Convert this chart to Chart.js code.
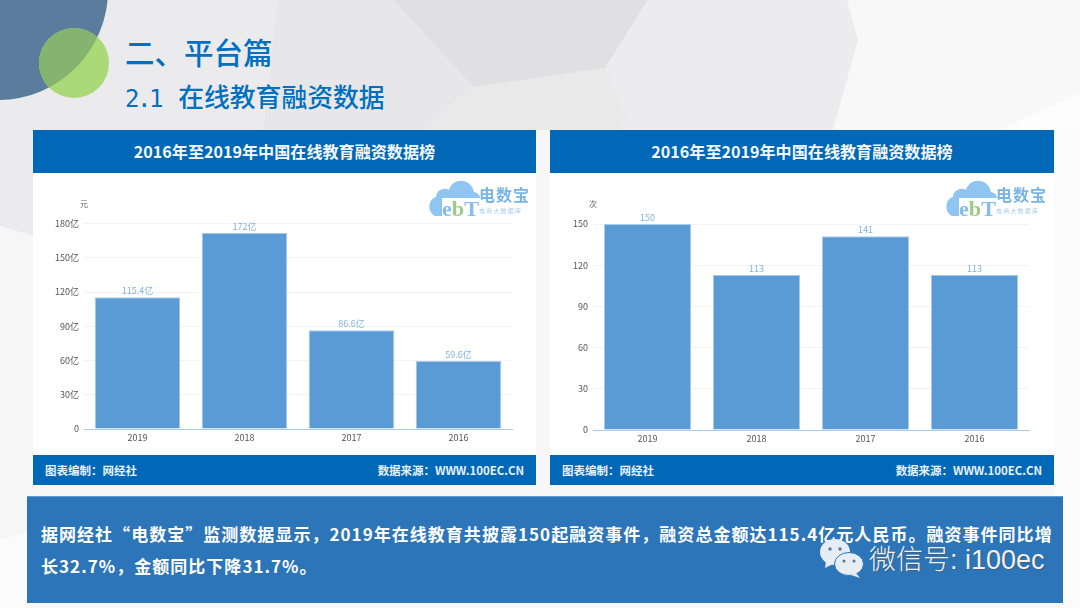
<!DOCTYPE html>
<html lang="zh-CN">

<head>
    <meta charset="utf-8">
    <title>在线教育融资数据</title>
    <script src="https://cdn.jsdelivr.net/npm/chart.js"></script>
    <style>
        html, body { margin: 0; padding: 0; }
        body { width: 1080px; height: 608px; overflow: hidden; position: relative; background: #f7f7f8; font-family: "Noto Sans CJK SC", "Noto Sans", sans-serif; }
        .abs { position: absolute; white-space: nowrap; }
        .panel { position: absolute; top: 130px; height: 355px; background: #fff; }
        .head { position: absolute; left: 0; right: 0; top: 0; height: 43px; line-height: 42px; background: #0068b7; color: #f4f8fc; font-size: 16.1px; font-weight: 700; text-align: center; }
        .foot { position: absolute; left: 0; right: 0; top: 325px; height: 30px; line-height: 30px; background: #0068b7; color: #e8f0f8; font-size: 11.5px; font-weight: 700; }
        .foot .l { position: absolute; left: 12px; }
        .foot .r { position: absolute; right: 12px; letter-spacing: -.05px; }
        .panel canvas { position: absolute; left: 0; top: 43px; }
        .unit { position: absolute; top: 68px; font-size: 8px; color: #666; }
        .logo { position: absolute; top: 45px; width: 110px; height: 46px; }
    </style>
</head>

<body>
    <svg class="abs" style="left:0;top:0" width="1080" height="608">
        <defs>
            <clipPath id="blue-clip"><circle cx="-2" cy="-10" r="110" /></clipPath>
        </defs>
        <polygon points="847,0 1080,0 1080,93 1000,130 833,130 858,40" fill="#f9f8f9" />
        <polygon points="1080,93 1000,130 1080,130" fill="#fdfdfd" />
        <polygon points="648,0 847,0 858,40 833,130 620,130 626,115 605,68" fill="#ecebed" />
        <polygon points="605,68 626,115 620,130 420,130 473,87 523,80" fill="#e9e9ea" />
        <polygon points="393,0 648,0 605,68 523,80 473,87" fill="#e0dfe1" />
        <polygon points="277,0 393,0 473,87 420,130 263,130" fill="#e7e7e9" />
        <polygon points="0,0 277,0 263,130 33,130 33,236 0,226" fill="#ebebed" />
        <polygon points="0,226 33,236 33,530 0,540" fill="#f6f6f7" />
        <polygon points="0,540 27,532 27,608 0,608" fill="#fbfbfb" />
        <rect x="1054" y="130" width="26" height="478" fill="#fbfbfc" />
        <rect x="27" y="603" width="1036" height="5" fill="#f6f6f7" />
        <circle cx="-2" cy="-10" r="110" fill="#5a7d9d" />
        <circle cx="74" cy="63" r="35" fill="#acd978" />
        <circle cx="74" cy="63" r="35" fill="#84b46f" clip-path="url(#blue-clip)" />
    </svg>

    <div class="abs" style="left:125px;top:29px;font-size:29.5px;line-height:44px;color:#0070c0;font-weight:500">二、平台篇</div>
    <div class="abs" style="left:125px;top:77px;font-size:25.8px;line-height:38px;color:#0070c0;font-weight:500"><span style="font-family:'DejaVu Sans Mono';font-size:24px;letter-spacing:-2.4px">2.1 </span><span style="margin-left:5px">在线教育融资数据</span></div>

    <div class="panel" style="left:33px;width:503px">
        <div class="head">2016年至2019年中国在线教育融资数据榜</div>
        <canvas id="money-chart" width="503" height="282"></canvas>
        <div class="unit" style="left:47px">元</div>
        <svg class="logo" style="left:394px" viewBox="0 0 110 46">
            <path d="M8,41 C0,37 1,24 9,22 C9,14 19,12 22,15 C26,2 44,3 47,17 C52,18 54,22 53,25 L18,36 L18,41 Z" fill="#90c5f1" />
            <rect x="15" y="23" width="39" height="19" fill="#fff" />
            <text x="15" y="41" font-size="21" font-weight="700" fill="#85bdeb" font-family="Liberation Serif" textLength="37" lengthAdjust="spacingAndGlyphs">e<tspan fill="#9ccb86">b</tspan>T</text>
            <text x="52" y="26" font-size="16" font-weight="700" fill="#78b4e6" letter-spacing="1">电数宝</text>
            <text x="52" y="38" font-size="6" fill="#a6cdec" letter-spacing="1.2">电商大数据库</text>
        </svg>
        <div class="foot"><span class="l">图表编制：网经社</span><span class="r">数据来源：WWW.100EC.CN</span></div>
    </div>

    <div class="panel" style="left:550px;width:504px">
        <div class="head">2016年至2019年中国在线教育融资数据榜</div>
        <canvas id="count-chart" width="504" height="282"></canvas>
        <div class="unit" style="left:39px">次</div>
        <svg class="logo" style="left:394px" viewBox="0 0 110 46">
            <path d="M8,41 C0,37 1,24 9,22 C9,14 19,12 22,15 C26,2 44,3 47,17 C52,18 54,22 53,25 L18,36 L18,41 Z" fill="#90c5f1" />
            <rect x="15" y="23" width="39" height="19" fill="#fff" />
            <text x="15" y="41" font-size="21" font-weight="700" fill="#85bdeb" font-family="Liberation Serif" textLength="37" lengthAdjust="spacingAndGlyphs">e<tspan fill="#9ccb86">b</tspan>T</text>
            <text x="52" y="26" font-size="16" font-weight="700" fill="#78b4e6" letter-spacing="1">电数宝</text>
            <text x="52" y="38" font-size="6" fill="#a6cdec" letter-spacing="1.2">电商大数据库</text>
        </svg>
        <div class="foot"><span class="l">图表编制：网经社</span><span class="r">数据来源：WWW.100EC.CN</span></div>
    </div>

    <div class="abs" style="left:27px;top:496px;width:1036px;height:107px;background:#2b75b8;border-top:1px solid #5f9bd0;box-sizing:border-box"></div>
    <div class="abs" style="left:41px;top:518px;font-size:17px;line-height:32px;color:#fff;font-weight:700;letter-spacing:1.03px">据网经社“电数宝”监测数据显示，2019年在线教育共披露150起融资事件，融资总金额达115.4亿元人民币。融资事件同比增<br>长32.7%，金额同比下降31.7%。</div>

    <svg class="abs" style="left:818px;top:537px" width="50" height="42" viewBox="0 0 50 42">
        <ellipse cx="17" cy="15" rx="15" ry="13" fill="#e6edf5" />
        <path d="M8,24 L7,31 L15,27 Z" fill="#e6edf5" />
        <ellipse cx="31" cy="27" rx="14.5" ry="11.5" stroke="#2b75b8" stroke-width="1" fill="#e6edf5" />
        <path d="M38,36 L42,41 L33,38 Z" fill="#e6edf5" />
        <circle cx="12" cy="12" r="1.7" fill="#5c7895" /><circle cx="22" cy="12" r="1.7" fill="#5c7895" />
        <circle cx="26" cy="24" r="1.5" fill="#5c7895" /><circle cx="36" cy="24" r="1.5" fill="#5c7895" />
    </svg>
    <div class="abs" style="left:869px;top:538px;font-size:27px;line-height:40px;color:#eef2f6;font-weight:300;text-shadow:1px 1px 1px #4a5f75">微信号<span style="font-family:'Liberation Sans'">: i100ec</span></div>

    <script>
        const years = ['2019', '2018', '2017', '2016'];
        const moneyValues = [115.4, 172, 86.6, 59.6];
        const countValues = [150, 113, 141, 113];
        const moneyTicks = [0, 30, 60, 90, 120, 150, 180];
        const countTicks = [0, 30, 60, 90, 120, 150];
        const barColor = '#5b9bd5';

        // value labels above each bar
        const barLabels = {
            id: 'barLabels',
            afterDatasetsDraw(chart, args, opts) {
                const ctx = chart.ctx;
                ctx.save();
                ctx.font = '9px "Noto Sans CJK SC"';
                ctx.fillStyle = '#7fb2e2';
                ctx.textAlign = 'center';
                ctx.textBaseline = 'bottom';
                chart.getDatasetMeta(0).data.forEach((bar, i) => {
                    ctx.fillText(opts.format(chart.data.datasets[0].data[i]), bar.x, bar.y - 2);
                });
                ctx.restore();
            }
        };

        function makeChart(id, values, ticks, fmt, left, right, top, bottom) {
            new Chart(document.getElementById(id).getContext('2d'), {
                type: 'bar',
                data: {
                    labels: years,
                    datasets: [{ data: values, backgroundColor: barColor, borderColor: '#a9cbea', borderWidth: 1, categoryPercentage: 0.8, barPercentage: 1 }]
                },
                options: {
                    responsive: false,
                    animation: false,
                    layout: { padding: { top: top, right: right, bottom: 0, left: 0 } },
                    plugins: { legend: { display: false }, tooltip: { enabled: false }, barLabels: { format: fmt } },
                    scales: {
                        x: {
                            grid: { display: false, drawTicks: false },
                            border: { color: '#a9cbea', width: 1 },
                            ticks: { color: '#555', font: { size: 9, family: '"Noto Sans CJK SC"' }, padding: 3, maxRotation: 0 },
                            afterFit(axis) { axis.height = bottom; }
                        },
                        y: {
                            min: 0,
                            max: ticks[ticks.length - 1],
                            afterBuildTicks(axis) { axis.ticks = ticks.map(v => ({ value: v })); },
                            grid: { color: '#f3f3f3', drawTicks: false },
                            border: { display: false },
                            ticks: { color: '#555', font: { size: 9, family: '"Noto Sans CJK SC"' }, padding: 5, callback: fmt === moneyFmt ? v => (v === 0 ? '0' : v + '亿') : v => v },
                            afterFit(axis) { axis.width = left; }
                        }
                    }
                },
                plugins: [barLabels]
            });
        }

        function moneyFmt(v) { return v + '亿'; }
        function countFmt(v) { return String(v); }

        makeChart('money-chart', moneyValues, moneyTicks, moneyFmt, 51, 24, 50.5, 26);
        makeChart('count-chart', countValues, countTicks, countFmt, 43, 25, 51, 25);
    </script>
</body>

</html>
